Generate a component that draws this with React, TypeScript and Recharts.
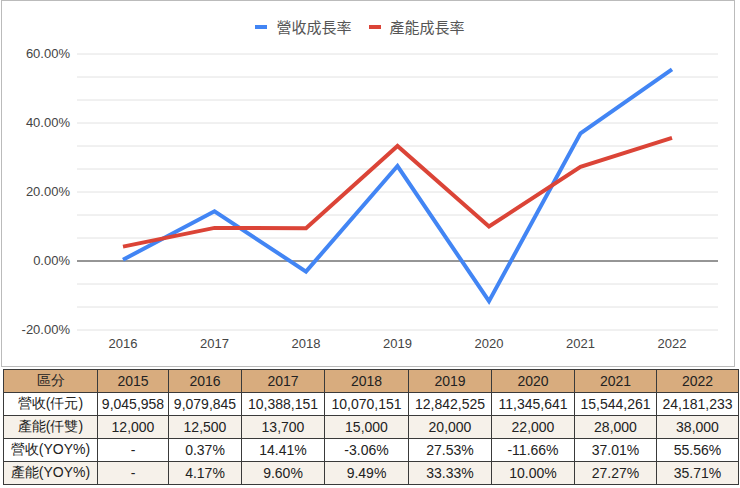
import { CartesianGrid, Legend, Line, LineChart, ReferenceLine, XAxis, YAxis } from 'recharts'

const years = ['2015', '2016', '2017', '2018', '2019', '2020', '2021', '2022']
const revenue = ['9,045,958', '9,079,845', '10,388,151', '10,070,151', '12,842,525', '11,345,641', '15,544,261', '24,181,233']
const capacity = ['12,000', '12,500', '13,700', '15,000', '20,000', '22,000', '28,000', '38,000']
const revenueYoy = [null, 0.37, 14.41, -3.06, 27.53, -11.66, 37.01, 55.56]
const capacityYoy = [null, 4.17, 9.6, 9.49, 33.33, 10.0, 27.27, 35.71]
const yTicks = [-20, -40 / 3, -20 / 3, 0, 20 / 3, 40 / 3, 20, 80 / 3, 100 / 3, 40, 140 / 3, 160 / 3, 60]

const BLUE = '#4285f4'
const RED = '#db4437'
const FONT = 'Arial, "Liberation Sans", sans-serif'

// chart starts at 2016 (first yoy is empty)
const chartData = years.slice(1).map((y, i) => ({
  year: y,
  rev: revenueYoy[i + 1],
  cap: capacityYoy[i + 1],
}))

const fmtPct = (v: number | null) => (v == null ? '-' : `${v.toFixed(2)}%`)

function YTick({ x, y, payload }: any) {
  const v = payload.value
  if (Math.abs(v % 20) > 0.01) return null
  return (
    <text x={x} y={y} dy={4} textAnchor="end" fontSize={13} fill="#444" fontFamily={FONT}>
      {v.toFixed(2)}%
    </text>
  )
}

function LegendBox() {
  const items = [
    { label: '營收成長率', color: BLUE },
    { label: '產能成長率', color: RED },
  ]
  return (
    <div style={{ display: 'flex', justifyContent: 'center', gap: 17, fontFamily: '"Noto Sans CJK TC", sans-serif', fontSize: 15, color: '#555', lineHeight: '20px' }}>
      {items.map((it) => (
        <div key={it.label} style={{ display: 'flex', alignItems: 'center', gap: 9 }}>
          <span style={{ display: 'inline-block', width: 12, height: 4, background: it.color }} />
          <span>{it.label}</span>
        </div>
      ))}
    </div>
  )
}

const colWidths = [94, 71, 73, 83, 84, 83, 83, 82, 82]
const rows: { label: string; cells: string[]; bg: string }[] = [
  { label: '營收(仟元)', cells: revenue, bg: '#ffffff' },
  { label: '產能(仟雙)', cells: capacity, bg: '#f6f1ea' },
  { label: '營收(YOY%)', cells: revenueYoy.map(fmtPct), bg: '#ffffff' },
  { label: '產能(YOY%)', cells: capacityYoy.map(fmtPct), bg: '#f6f1ea' },
]

export default function App() {
  const cell: React.CSSProperties = {
    border: '1px solid #3a3a3a',
    textAlign: 'center',
    padding: 0,
    height: 22,
    fontSize: 14,
    color: '#222',
  }
  return (
    <div style={{ position: 'absolute', left: 0, top: 0, width: 740, height: 488, background: '#fff', fontFamily: FONT }}>
      <div style={{ position: 'absolute', left: 1, top: 0, width: 734, height: 367, border: '1px solid #bbb', boxSizing: 'border-box' }}>
        <LineChart width={732} height={365} data={chartData} margin={{ top: 16, right: 16, bottom: 0, left: 0 }}>
          <Legend verticalAlign="top" height={37} content={() => <LegendBox />} />
          <CartesianGrid vertical={false} stroke="#e2e2e2" strokeWidth={1} />
          <XAxis
            dataKey="year"
            axisLine={false}
            tickLine={false}
            padding={{ left: 46, right: 46 }}
            tick={{ fontSize: 13, fill: '#444', fontFamily: FONT }}
            tickMargin={3}
            height={36}
          />
          <YAxis
            domain={[-20, 60]}
            ticks={yTicks}
            interval={0}
            axisLine={false}
            tickLine={false}
            width={75}
            tick={<YTick />}
            tickSize={0}
            tickMargin={7}
          />
          <ReferenceLine y={0} stroke="#777" strokeWidth={1.5} />
          <Line dataKey="rev" stroke={BLUE} strokeWidth={4} dot={false} isAnimationActive={false} />
          <Line dataKey="cap" stroke={RED} strokeWidth={4} dot={false} isAnimationActive={false} />
        </LineChart>
      </div>
      <table
        style={{
          position: 'absolute',
          left: 3,
          top: 369,
          borderCollapse: 'collapse',
          tableLayout: 'fixed',
          width: 735,
          fontFamily: FONT,
        }}
      >
        <colgroup>
          {colWidths.map((w, i) => (
            <col key={i} style={{ width: w }} />
          ))}
        </colgroup>
        <tbody>
          <tr>
            <td style={{ ...cell, background: '#d8ac7e' }}>區分</td>
            {years.map((y) => (
              <td key={y} style={{ ...cell, background: '#d8ac7e' }}>{y}</td>
            ))}
          </tr>
          {rows.map((r) => (
            <tr key={r.label} style={{ background: r.bg }}>
              <td style={cell}>{r.label}</td>
              {r.cells.map((c, i) => (
                <td key={i} style={cell}>{c}</td>
              ))}
            </tr>
          ))}
        </tbody>
      </table>
    </div>
  )
}
